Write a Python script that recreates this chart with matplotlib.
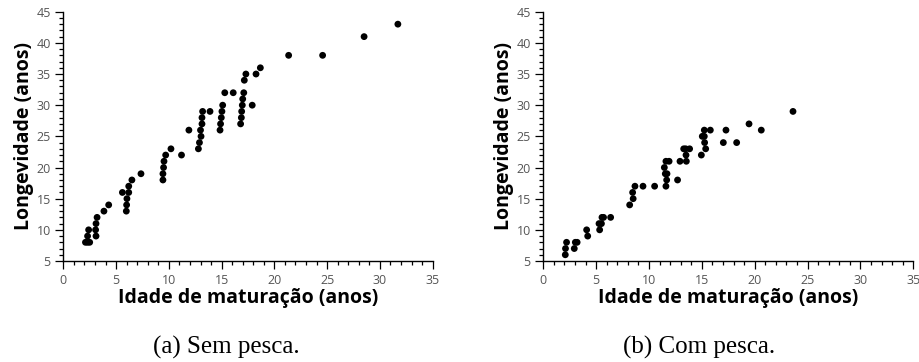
import matplotlib
matplotlib.use("Agg")
import matplotlib.pyplot as plt
from matplotlib.ticker import MultipleLocator

# (a) Sem pesca
sem_x = [2.1, 2.3, 2.5, 2.3, 2.4, 3.06, 3.1, 3.1, 3.2, 3.85, 4.3, 5.6, 5.97, 6.0, 6.03,
         6.2, 6.2, 6.5, 7.36, 9.44, 9.44, 9.5, 9.54, 9.7, 10.2, 11.2, 11.9, 12.8, 12.9,
         13.05, 13.0, 13.14, 13.14, 13.2, 13.9, 14.85, 14.9, 14.97, 15.03, 15.1, 15.3,
         16.1, 16.8, 16.87, 16.9, 16.96, 17.0, 17.1, 17.15, 17.3, 17.9, 18.26, 18.67,
         21.35, 24.57, 28.5, 31.7]
sem_y = [8, 8, 8, 9, 10, 10, 9, 11, 12, 13, 14, 16, 13, 14, 15,
         16, 17, 18, 19, 18, 19, 20, 21, 22, 23, 22, 26, 23, 24,
         25, 26, 27, 28, 29, 29, 26, 27, 28, 29, 30, 32,
         32, 27, 28, 29, 30, 31, 32, 34, 35, 30, 35, 36,
         38, 38, 41, 43]

# (b) Com pesca
com_x = [2.08, 2.1, 2.2, 2.93, 3.03, 3.2, 4.1, 4.2, 5.33, 5.27, 5.5, 5.55, 5.7, 6.37,
         8.17, 8.5, 8.45, 8.67, 9.43, 10.53, 11.45, 11.54, 11.6, 11.67, 11.6, 11.7, 11.9,
         12.7, 12.93, 13.28, 13.5, 13.53, 13.47, 13.84, 14.95, 15.04, 15.23, 15.23,
         15.26, 15.36, 15.8, 17.03, 17.28, 18.29, 19.46, 20.62, 23.62]
com_y = [6, 7, 8, 7, 8, 8, 10, 9, 10, 11, 11, 12, 12, 12,
         14, 15, 16, 17, 17, 17, 20, 19, 21, 18, 17, 19, 21,
         18, 21, 23, 22, 21, 23, 23, 22, 25, 25, 26,
         24, 23, 26, 24, 26, 24, 27, 26, 29]

xlabel = "Idade de maturação (anos)"
ylabel = "Longevidade (anos)"
captions = ["(a) Sem pesca.", "(b) Com pesca."]

W, H = 919, 362
fig = plt.figure(figsize=(W / 100, H / 100), dpi=100)

label_font = dict(family=["Open Sans", "DejaVu Sans"], weight="bold", size=14)
tick_font = ["Open Sans", "DejaVu Sans"]

panels = [
    (sem_x, sem_y, 63.3, 432.7, 226),
    (com_x, com_y, 543.3, 913.3, 699),
]
top_px, bot_px = 11.7, 261.0

for (xs, ys, x0, x1, cap_c), cap in zip(panels, captions):
    ax = fig.add_axes([x0 / W, 1 - bot_px / H, (x1 - x0) / W, (bot_px - top_px) / H])
    ax.scatter(xs, ys, s=24, color="black", edgecolors="none", zorder=3, clip_on=False)
    ax.set_xlim(0, 35)
    ax.set_ylim(5, 45)
    for s in ["top", "right"]:
        ax.spines[s].set_visible(False)
    for s in ["left", "bottom"]:
        ax.spines[s].set_linewidth(1.0)
    ax.xaxis.set_major_locator(MultipleLocator(5))
    ax.xaxis.set_minor_locator(MultipleLocator(1))
    ax.yaxis.set_major_locator(MultipleLocator(5))
    ax.yaxis.set_minor_locator(MultipleLocator(1))
    ax.tick_params(which="major", length=6, width=0.9, direction="out", pad=3,
                   labelsize=9, labelcolor="#555555")
    ax.tick_params(which="minor", length=3, width=0.9, direction="out")
    for lab in ax.get_xticklabels() + ax.get_yticklabels():
        lab.set_family(tick_font)
    ax.set_xlabel(xlabel, fontdict=label_font, labelpad=1)
    ax.set_ylabel(ylabel, fontdict=label_font, labelpad=2)
    fig.text(cap_c / W, 1 - 347 / H, cap, ha="center", va="center",
             family="Liberation Serif", size=18)

fig.savefig("out.png", dpi=100)
